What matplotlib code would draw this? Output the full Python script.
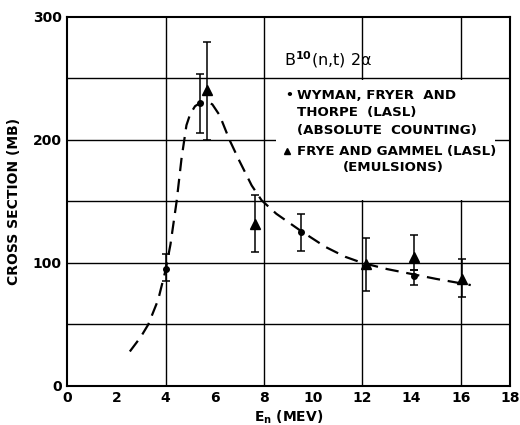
import matplotlib
matplotlib.use("Agg")
import matplotlib.pyplot as plt
from matplotlib.patches import Rectangle

# Wyman, Fryer and Thorpe (circles)
wyman_e = [4.0, 5.4, 9.5, 14.1]
wyman_xs = [95, 230, 125, 89]
wyman_lo = [85, 206, 110, 82]
wyman_hi = [107, 254, 140, 94]

# Frye and Gammel (triangles)
frye_e = [5.7, 7.65, 12.15, 14.1, 16.05]
frye_xs = [241, 132, 99, 105, 87]
frye_lo = [200, 109, 77, 94, 72]
frye_hi = [280, 155, 120, 123, 103]

# hand-drawn dashed curve
curve_e = [2.55, 3.0, 3.3, 3.7, 4.0, 4.2, 4.45, 4.65, 4.85, 5.0, 5.2, 5.4,
           5.65, 5.9, 6.2, 6.6, 7.0, 7.5, 7.9, 8.5, 9.5, 10.5, 11.3, 12.0,
           13.0, 14.0, 15.0, 16.4]
curve_xs = [28, 40, 50, 70, 94, 115, 150, 185, 212, 221, 227.5, 230,
            231, 229, 220, 200, 183, 163, 151, 140, 126, 113, 105, 100,
            95, 91, 87, 82]

x_ticks = [0, 2, 4, 6, 8, 10, 12, 14, 16, 18]
y_ticks = [0, 100, 200, 300]
x_grid = [4, 8, 12, 16]
y_grid = [50, 100, 150, 200, 250]
minor_x = [2, 6, 10, 14]

plt.rcParams["font.family"] = "DejaVu Sans"
plt.rcParams["font.weight"] = "bold"

fig = plt.figure(figsize=(5.2, 4.25), dpi=100)
ax = fig.add_axes([0.129, 0.092, 0.852, 0.868])

for x in x_grid:
    ax.axvline(x, color="black", lw=1.0, zorder=1)
for y in y_grid:
    ax.axhline(y, color="black", lw=1.0, zorder=1)

# white area of the legend block interrupts the grid
ax.add_patch(Rectangle((8.5, 151.5), 8.9, 97, facecolor="white",
                       edgecolor="none", zorder=2))

ax.plot(curve_e, curve_xs, color="black", lw=1.6, ls=(0, (6, 3.5)), zorder=3)

w_err = [[v - lo for v, lo in zip(wyman_xs, wyman_lo)],
         [hi - v for v, hi in zip(wyman_xs, wyman_hi)]]
f_err = [[v - lo for v, lo in zip(frye_xs, frye_lo)],
         [hi - v for v, hi in zip(frye_xs, frye_hi)]]
ax.errorbar(wyman_e, wyman_xs, yerr=w_err, fmt="o", color="black", ms=4,
            elinewidth=1.1, capsize=3.2, capthick=1.1, zorder=4)
ax.errorbar(frye_e, frye_xs, yerr=f_err, fmt="^", color="black", ms=6.5,
            elinewidth=1.1, capsize=3.2, capthick=1.1, zorder=4)

ax.set_xlim(0, 18)
ax.set_ylim(0, 300)
ax.set_xticks(x_ticks)
ax.set_yticks(y_ticks)
ax.set_xticks(minor_x, minor=True)
ax.tick_params(axis="both", which="major", length=0, labelsize=10, pad=4)
ax.tick_params(axis="x", which="minor", direction="in", length=6,
               width=1.0, top=True, bottom=True)
for lbl in ax.get_xticklabels() + ax.get_yticklabels():
    lbl.set_fontweight("bold")
for s in ax.spines.values():
    s.set_linewidth(1.5)

ax.set_ylabel("CROSS SECTION (MB)", fontsize=10, fontweight="bold", labelpad=8)
ax.set_xlabel("E$_\\mathbf{n}$ (MEV)", fontsize=10, fontweight="bold",
              labelpad=2)

ax.text(8.8, 265, "B$^{10}$(n,t) 2α", fontsize=11.5,
        fontweight="normal", ha="left", va="center", zorder=5)
ax.text(8.85, 236, "•", fontsize=9, ha="left", va="center", zorder=5)
fs = 9.6
ax.text(9.35, 236, "WYMAN, FRYER  AND", fontsize=fs, ha="left",
        va="center", zorder=5)
ax.text(9.35, 222, "THORPE  (LASL)", fontsize=fs, ha="left",
        va="center", zorder=5)
ax.text(9.35, 207.5, "(ABSOLUTE  COUNTING)", fontsize=fs, ha="left",
        va="center", zorder=5)
ax.plot([8.95], [191], marker="^", color="black", ms=5, zorder=5)
ax.text(9.35, 191, "FRYE AND GAMMEL (LASL)", fontsize=fs, ha="left",
        va="center", zorder=5)
ax.text(11.2, 178, "(EMULSIONS)", fontsize=fs, ha="left",
        va="center", zorder=5)

fig.savefig("out.png", dpi=100)
